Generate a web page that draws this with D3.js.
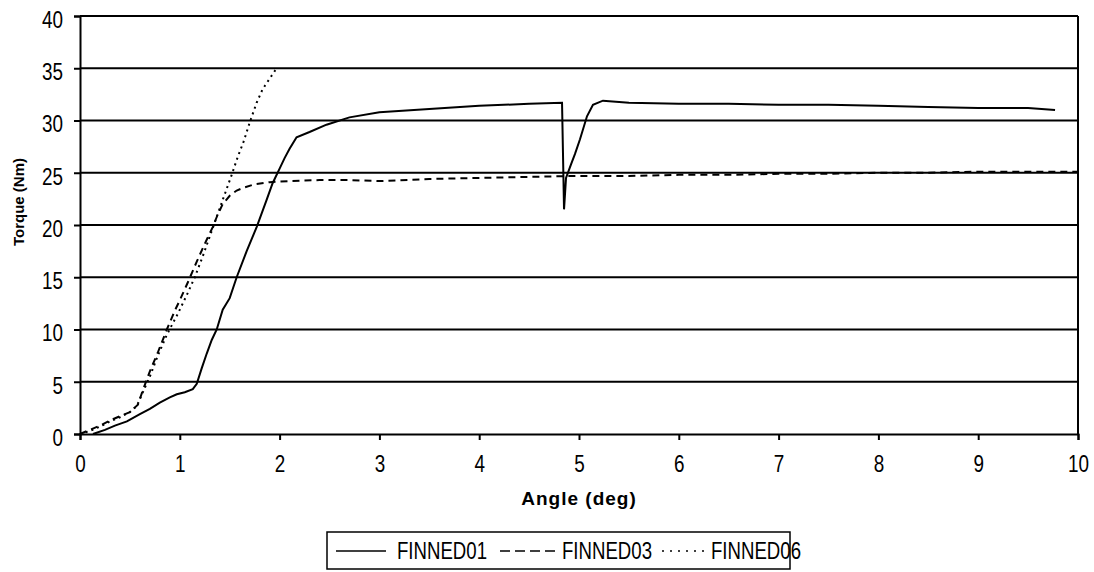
<!DOCTYPE html>
<html>
<head>
<meta charset="utf-8">
<script src="https://cdn.jsdelivr.net/npm/d3@7"></script>
<style>
  body { margin: 0; background: #fff; }
  .tick-lbl { font-family: "Liberation Sans", Arial, sans-serif; font-size: 23px; fill: #000; }
  .ttl { font-family: "Liberation Sans", Arial, sans-serif; font-weight: bold; fill: #000; }
</style>
</head>
<body>
<div id="chart"></div>
<script>
// Torque vs angle ------------------------------------------------------------------

var seriesNames = ["FINNED01", "FINNED03", "FINNED06"];
var xTicks = [0,1,2,3,4,5,6,7,8,9,10];
var yTicks = [0,5,10,15,20,25,30,35,40];

// [angle, torque]
var finned01 = [[0.13,0],[0.25,0.4],[0.35,0.8],[0.47,1.2],[0.6,1.9],[0.7,2.4],[0.8,3.0],[0.9,3.5],[0.97,3.8],
  [1.05,4.0],[1.13,4.3],[1.17,4.8],[1.22,6.3],[1.27,7.7],[1.32,9.0],[1.37,10.0],[1.43,11.9],[1.5,13.0],
  [1.57,15.0],[1.67,17.5],[1.77,19.8],[1.87,22.4],[1.93,24.0],[2.0,25.4],[2.05,26.4],[2.1,27.3],[2.17,28.4],
  [2.3,28.9],[2.47,29.6],[2.7,30.3],[3.0,30.8],[3.5,31.1],[4.0,31.4],[4.5,31.6],[4.83,31.7],[4.85,21.5],
  [4.87,24.5],[4.92,25.8],[4.96,26.8],[5.01,28.2],[5.08,30.4],[5.14,31.5],[5.24,31.9],[5.5,31.7],[6.0,31.6],
  [6.5,31.6],[7.0,31.5],[7.5,31.5],[8.0,31.4],[8.5,31.3],[9.0,31.2],[9.5,31.2],[9.77,31.0]];

var finned03 = [[0,0],[0.1,0.4],[0.2,0.8],[0.3,1.3],[0.4,1.7],[0.5,2.1],[0.58,2.8],[0.63,4.2],[0.7,6.0],
  [0.78,7.8],[0.87,10.0],[0.95,11.8],[1.0,12.8],[1.08,14.5],[1.17,16.5],[1.25,18.2],[1.33,19.8],[1.38,21.0],
  [1.43,22.0],[1.5,22.8],[1.57,23.3],[1.65,23.6],[1.75,23.9],[1.9,24.1],[2.1,24.2],[2.4,24.3],[2.7,24.3],
  [3.0,24.2],[3.5,24.4],[4.0,24.5],[4.5,24.6],[5.0,24.7],[5.5,24.7],[6.0,24.8],[6.5,24.8],[7.0,24.9],
  [7.5,24.9],[8.0,25.0],[8.5,25.0],[9.0,25.1],[9.5,25.1],[10.0,25.1]];

var finned06 = [[0,0],[0.1,0.3],[0.2,0.7],[0.3,1.2],[0.4,1.6],[0.5,2.1],[0.57,2.7],[0.63,4.0],[0.7,5.5],
  [0.78,7.5],[0.87,9.5],[0.98,11.5],[1.08,13.5],[1.15,15.0],[1.23,17.0],[1.3,18.9],[1.36,20.5],[1.43,22.4],
  [1.52,24.8],[1.58,26.5],[1.64,28.0],[1.7,29.8],[1.77,31.7],[1.83,33.0],[1.9,34.0],[1.97,35.0]];

var dashes = ["none", "7,5", "2,4"];
var legDashes = ["none", "10,5", "2,6"];

var svgWidth = 1094, svgHeight = 572;
var margin = {top: 16, left: 80, right: 16, bottom: 138};
var width = svgWidth - margin.left - margin.right,
    height = svgHeight - margin.top - margin.bottom;

var svg = d3.select("#chart").append("svg")
  .attr("width", svgWidth)
  .attr("height", svgHeight);

var g = svg.append("g")
  .attr("transform", "translate(" + margin.left + "," + margin.top + ")");

var x = d3.scaleLinear().domain([0, 10]).range([0, width]);
var y = d3.scaleLinear().domain([0, 40]).range([height, 0]);

// narrow digits like the original
function squeeze(sel) {
  sel.attr("textLength", function(){ return this.textContent.length * 10.5; })
     .attr("lengthAdjust", "spacingAndGlyphs");
}

// gridlines
g.selectAll(".grid").data(yTicks.filter(function(d){ return d > 0; }))
  .enter().append("line")
  .attr("x1", 0).attr("x2", width)
  .attr("y1", function(d){ return y(d); })
  .attr("y2", function(d){ return y(d); })
  .attr("stroke", "#000").attr("stroke-width", 2);

// right border
g.append("line")
  .attr("x1", width).attr("x2", width).attr("y1", 0).attr("y2", height)
  .attr("stroke", "#000").attr("stroke-width", 2);

// axes
var xAxis = g.append("g")
  .attr("transform", "translate(0," + height + ")")
  .call(d3.axisBottom(x).tickValues(xTicks).tickSize(6).tickPadding(16).tickFormat(d3.format("d")));

var yAxis = g.append("g")
  .call(d3.axisLeft(y).tickValues(yTicks).tickSize(6).tickPadding(11).tickFormat(d3.format("d")));

[xAxis, yAxis].forEach(function(a){
  a.select(".domain").attr("stroke", "#000").attr("stroke-width", 2);
  a.selectAll(".tick line").attr("stroke", "#000").attr("stroke-width", 2);
  a.selectAll("text").attr("class", "tick-lbl").attr("font-size", null).attr("font-family", null).call(squeeze);
});
yAxis.selectAll("text").attr("dy", "0.49em");
xAxis.selectAll("text").attr("dy", "0.71em");

// series
var line = d3.line()
  .x(function(d){ return x(d[0]); })
  .y(function(d){ return y(d[1]); });

[finned01, finned03, finned06].forEach(function(data, i){
  g.append("path").datum(data)
    .attr("d", line)
    .attr("fill", "none")
    .attr("stroke", "#000")
    .attr("stroke-width", 2)
    .attr("stroke-dasharray", dashes[i]);
});

// titles
svg.append("text").attr("class", "ttl")
  .attr("x", 579).attr("y", 505)
  .attr("text-anchor", "middle")
  .attr("font-size", "19px")
  .attr("letter-spacing", "1px")
  .text("Angle (deg)");

svg.append("text").attr("class", "ttl")
  .attr("transform", "translate(24,202) rotate(-90)")
  .attr("text-anchor", "middle")
  .attr("font-size", "15px")
  .text("Torque (Nm)");

// legend
var legend = svg.append("g");
legend.append("rect")
  .attr("x", 327).attr("y", 532).attr("width", 463).attr("height", 37)
  .attr("fill", "#fff").attr("stroke", "#000").attr("stroke-width", 1.5);

var legX = [336, 500, 662];
var legLen = [50, 57, 44];
var textX = [397, 562, 711];
seriesNames.forEach(function(name, i){
  legend.append("line")
    .attr("x1", legX[i]).attr("x2", legX[i] + legLen[i])
    .attr("y1", 551).attr("y2", 551)
    .attr("stroke", "#000").attr("stroke-width", 1.5)
    .attr("stroke-dasharray", legDashes[i]);
  legend.append("text").attr("class", "tick-lbl")
    .attr("x", textX[i]).attr("y", 559)
    .attr("textLength", 90).attr("lengthAdjust", "spacingAndGlyphs")
    .text(name);
});
</script>
</body>
</html>
